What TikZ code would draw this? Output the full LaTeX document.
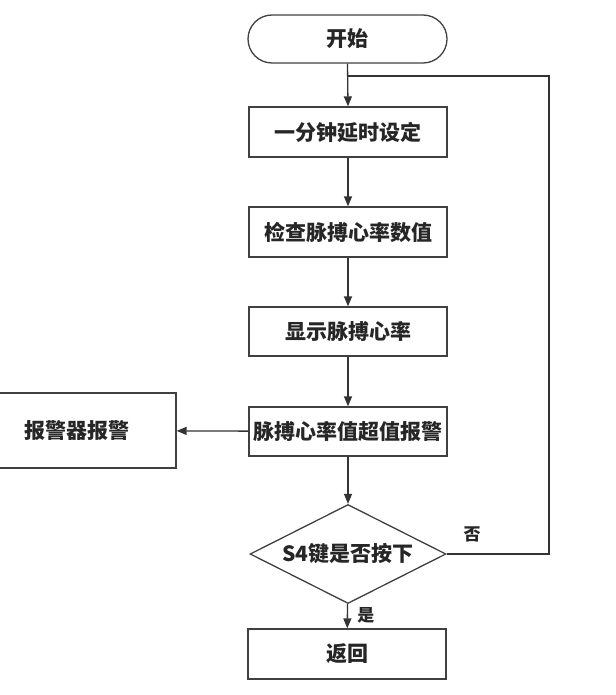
\documentclass[tikz,border=0pt]{standalone}
\usepackage{fontspec}
\setmainfont{Noto Sans CJK SC}
\usetikzlibrary{shapes.geometric,arrows.meta}
\begin{document}
\begin{tikzpicture}[x=1pt,y=1pt,
  every node/.style={font=\bfseries\fontsize{21}{25}\selectfont, text=black!85},
  box/.style={draw=black!75, line width=1.3pt, rectangle, minimum width=198pt, minimum height=50pt, inner sep=0pt},
  term/.style={box, rounded corners=24pt, minimum width=199pt, minimum height=48pt},
  dec/.style={draw=black!75, line width=1.3pt, diamond, aspect=2, minimum width=196pt, minimum height=99pt, inner sep=0pt},
  lbl/.style={font=\bfseries\fontsize{17}{20}\selectfont},
  conn/.style={draw=black!80, line width=1.3pt},
  arr/.style={conn, -{Triangle[length=10pt,width=8pt]}}
]
\useasboundingbox (0,0) rectangle (615,-695);
\node[term] (start) at (347.5,-39) {开始};
\node[box] (b1) at (348,-132) {一分钟延时设定};
\node[box] (b2) at (348,-232) {检查脉搏心率数值};
\node[box, minimum height=49pt] (b3) at (348,-331.5) {显示脉搏心率};
\node[box, minimum height=49pt] (b4) at (348,-431.5) {脉搏心率值超值报警};
\node[box, minimum height=75pt] (alarm) at (77,-430.5) {报警器报警};
\node[dec] (dia) at (348,-554) {S4键是否按下};
\node[box] (ret) at (347,-654) {返回};
\coordinate (j) at (348,-76);
\coordinate (r) at (549,-76);
\draw[arr] (start.south) -- (b1.north);
\draw[arr] (b1) -- (b2);
\draw[arr] (b2) -- (b3);
\draw[arr] (b3) -- (b4);
\draw[arr] (b4) -- (alarm);
\draw[arr] (b4) -- (dia);
\draw[arr] (dia) -- node[lbl, right, pos=0.45, xshift=6pt] {是} (ret);
\draw[conn] (dia.east) -| node[lbl, above, pos=0.125, yshift=8pt] {否} (r) -- (j);
\end{tikzpicture}
\end{document}
